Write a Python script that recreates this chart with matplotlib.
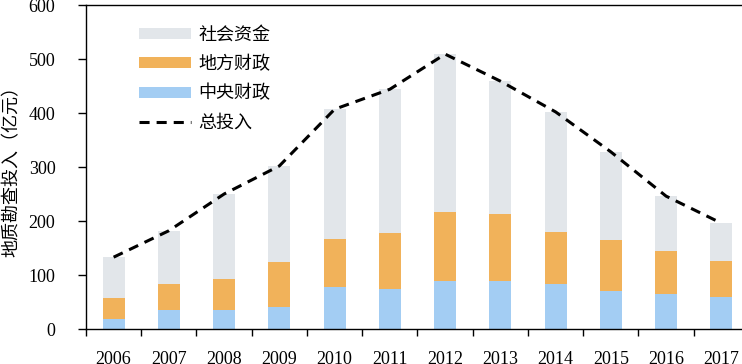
import matplotlib.pyplot as plt
import numpy as np

plt.rcParams['font.family'] = ['Liberation Serif', 'Noto Sans CJK SC']

years = ['2006', '2007', '2008', '2009', '2010', '2011', '2012', '2013', '2014', '2015', '2016', '2017']
central = [18, 35, 35, 41, 77, 75, 89, 89, 84, 70, 64, 60]      # 中央财政
local_ = [40, 48, 58, 84, 89, 103, 128, 124, 96, 95, 81, 66]     # 地方财政
total = [133, 182, 250, 302, 407, 444, 509, 459, 402, 328, 246, 196]  # 总投入
social = [t - c - l for t, c, l in zip(total, central, local_)]  # 社会资金

c_blue = '#A3CDF3'
c_orange = '#F1B25A'
c_gray = '#E2E6EA'

fig = plt.figure(figsize=(7.42, 3.64), dpi=100)
ax = fig.add_axes([86 / 742, 35 / 364, 663 / 742, 324 / 364])

x = np.arange(len(years))
w = 0.4
b1 = ax.bar(x, central, w, color=c_blue, label='中央财政')
b2 = ax.bar(x, local_, w, bottom=central, color=c_orange, label='地方财政')
bottom2 = [c + l for c, l in zip(central, local_)]
b3 = ax.bar(x, social, w, bottom=bottom2, color=c_gray, label='社会资金')
ln, = ax.plot(x, total, color='black', lw=2.2, linestyle=(0, (3.3, 2.3)), label='总投入')

ax.set_xlim(-0.5, 11.5)
ax.set_ylim(0, 600)
ax.set_yticks(range(0, 601, 100))
ax.set_xticks(np.arange(-0.5, 12, 1))
ax.set_xticklabels([])
ax.set_xticks(x, minor=True)
ax.set_xticklabels(years, minor=True)
ax.tick_params(axis='x', which='major', direction='out', length=5, width=1)
ax.tick_params(axis='x', which='minor', length=0, pad=16, labelsize=13)
ax.tick_params(axis='y', direction='out', length=6, width=1, pad=16, labelsize=13)
ax.spines['right'].set_visible(False)
for s in ['left', 'bottom', 'top']:
    ax.spines[s].set_linewidth(1)

ax.set_ylabel('地质勘查投入（亿元）', fontsize=13, family=['Noto Sans CJK SC'])
ax.yaxis.set_label_coords(-0.098, 0.5)

leg = ax.legend([b3, b2, b1, ln], ['社会资金', '地方财政', '中央财政', '总投入'],
                loc='upper left', bbox_to_anchor=(0.055, 0.985), frameon=False,
                handlelength=2.9, handleheight=0.55, labelspacing=0.62,
                handletextpad=0.4, prop={'family': 'Noto Sans CJK SC', 'size': 13})

fig.savefig('out.png', dpi=100)
